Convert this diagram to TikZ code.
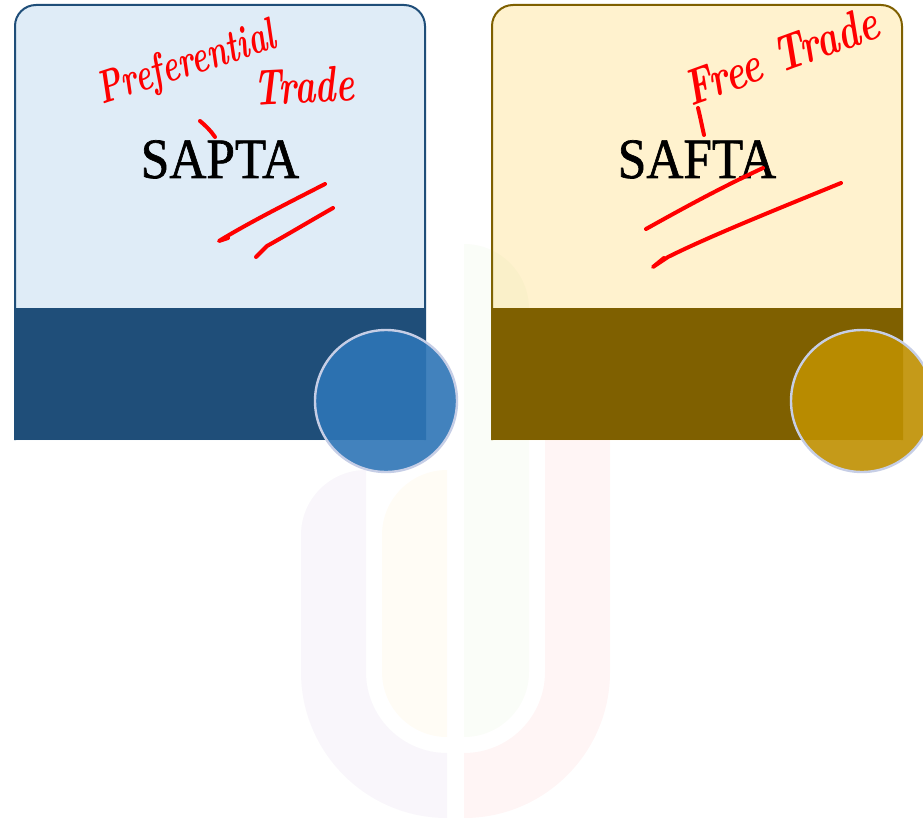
\documentclass[tikz,border=0pt]{standalone}
\usepackage{fontspec}
\newfontfamily\titlefont[FakeBold=1.2]{Liberation Serif}
\definecolor{bluelight}{HTML}{DFECF7}
\definecolor{bluedark}{HTML}{1F4E79}
\definecolor{goldlight}{HTML}{FFF2CE}
\definecolor{golddark}{HTML}{7F6000}
\definecolor{circblue}{HTML}{2E75B6}
\definecolor{circgold}{HTML}{BF9000}
\definecolor{circrim}{HTML}{C6CEE6}
\definecolor{wmlav}{HTML}{7030A0}
\definecolor{wmcream}{HTML}{FFC000}
\definecolor{wmgreen}{HTML}{92D050}
\definecolor{wmpink}{HTML}{FF0000}
\tikzset{
  cardshape/.style={line width=2pt, rounded corners=21pt},
  wm/.style={fill opacity=0.04},
  disc/.style={circle, minimum size=142pt, inner sep=0pt, draw=circrim, line width=2.4pt, fill opacity=0.9},
  title/.style={inner sep=0pt, anchor=base, font=\titlefont\fontsize{57}{60}\selectfont},
  hand/.style={draw=red, line width=4pt, line cap=round, line join=round},
  handtext/.style={text=red, inner sep=0pt}
}
\begin{document}
\begin{tikzpicture}[x=1pt, y=-1pt]
\useasboundingbox (0,0) rectangle (923,818);
\fill[white] (0,0) rectangle (923,818);
% card light parts
\draw[cardshape, draw=bluedark, fill=bluelight] (15,440) -- (15,5) -- (425,5) -- (425,440);
\draw[cardshape, draw=golddark, fill=goldlight] (492,440) -- (492,5) -- (902,5) -- (902,440);
% watermark U
\fill[wm, wmlav] (301,535) arc[start angle=180, end angle=270, radius=65]
  -- (366,672) arc[start angle=180, end angle=90, radius=81]
  -- (447,818) arc[start angle=90, end angle=180, radius=146] -- cycle;
\fill[wm, wmcream] (382,535) arc[start angle=180, end angle=270, radius=65]
  -- (447,737) arc[start angle=90, end angle=180, radius=65] -- cycle;
\fill[wm, wmgreen] (464,737) -- (464,244) arc[start angle=270, end angle=360, radius=65]
  -- (529,672) arc[start angle=0, end angle=90, radius=65] -- cycle;
\fill[wm, wmpink] (545,672) -- (545,330) arc[start angle=270, end angle=360, radius=65]
  -- (610,672) arc[start angle=0, end angle=90, radius=146]
  -- (464,753) arc[start angle=90, end angle=0, radius=81] -- cycle;
% bands
\fill[bluedark] (15,308) rectangle (425,440);
\fill[golddark] (492,308) rectangle (902,440);
% circles
\node[disc, fill=circblue] (c1) at (386,401) {};
\node[disc, fill=circgold] (c2) at (862,401) {};
% titles
\node[title] (sapta) at (220,178) {\scalebox{0.9}[1]{SAPTA}};
\node[title] (safta) at (697,178) {\scalebox{0.9}[1]{SAFTA}};
% handwritten notes
\node[handtext, rotate=18, font=\bfseries\itshape\fontsize{42}{46}\selectfont] (pref) at (187,65) {\scalebox{0.74}[1.1]{Preferential}};
\node[handtext, rotate=3, font=\bfseries\itshape\fontsize{44}{48}\selectfont] (trade1) at (304,86) {\scalebox{0.8}[1.15]{Trade}};
\node[handtext, rotate=20, font=\bfseries\itshape\fontsize{44}{48}\selectfont] (free) at (781,55) {\scalebox{0.86}[1.15]{Free Trade}};
% handwritten strokes (left)
\draw[hand] (200,121) .. controls (206,126) and (211,131) .. (215,137);
\draw[hand] (325,184) .. controls (290,202) and (250,222) .. (219,241) -- (228,238);
\draw[hand] (333,208) .. controls (305,224) and (285,236) .. (267,246) -- (256,257);
% handwritten strokes (right)
\draw[hand] (698,108) .. controls (700,116) and (702,126) .. (704,135);
\draw[hand] (763,168) .. controls (720,188) and (680,210) .. (646,229);
\draw[hand] (841,183) .. controls (780,208) and (710,236) .. (668,257) -- (653,267) -- (664,258);
\end{tikzpicture}
\end{document}
